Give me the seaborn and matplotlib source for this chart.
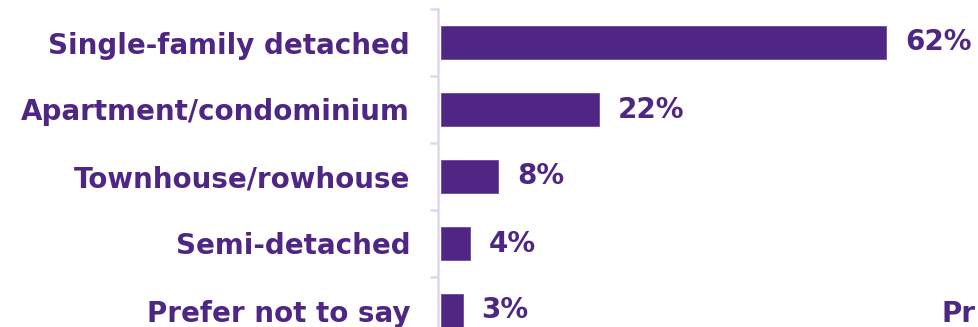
import matplotlib
matplotlib.use("Agg")
import matplotlib.pyplot as plt
import seaborn as sns
import pandas as pd
import numpy as np

# Dwelling type shares (%)
categories = ["Single-family detached", "Apartment/condominium", "Townhouse/rowhouse",
              "Semi-detached", "Prefer not to say"]
values = [62, 22, 8, 4, 3]
value_labels = ["62%", "22%", "8%", "4%", "3%"]

PURPLE = "#4F2683"
LAVENDER = "#E0D6F3"
FS = 20

sns.set_theme(style="white")
plt.rcParams["font.family"] = ["DejaVu Sans"]

df = pd.DataFrame({"category": categories, "value": values})

fig = plt.figure(figsize=(9.79, 3.27), dpi=100)
# axes spans past the bottom edge so the last row is partly cut off
ax = fig.add_axes([438 / 979, (327 - 344) / 327, (979 - 438) / 979, 335 / 327])

sns.barplot(data=df, y="category", x="value", orient="h", color=PURPLE,
            width=0.5, edgecolor="#6A4A9A", linewidth=0.6, saturation=1, ax=ax)

ax.set_xlim(-0.42, 74.9)
ax.set_ylim(4.5, -0.5)
ax.set_xlabel("")
ax.set_ylabel("")
ax.set_xticks([])

for s in ["top", "right", "bottom"]:
    ax.spines[s].set_visible(False)
ax.spines["left"].set_color(LAVENDER)
ax.spines["left"].set_linewidth(1.8)

ax.set_yticks(range(len(categories)))
ax.set_yticklabels(categories, fontsize=FS, fontweight="bold", color=PURPLE)
ax.tick_params(axis="y", which="major", left=False, length=0, pad=20)
ax.set_yticks(np.arange(-0.5, len(categories), 1.0), minor=True)
ax.tick_params(axis="y", which="minor", left=True, length=6, width=1.8, color=LAVENDER)

for i, (v, lab) in enumerate(zip(values, value_labels)):
    ax.annotate(lab, xy=(v, i), xytext=(13.7, 0), textcoords="offset points",
                ha="left", va="center", fontsize=FS, fontweight="bold", color=PURPLE)

fig.text(942 / 979, (327 - 314) / 327, "Pr", ha="left", va="center",
         fontsize=FS, fontweight="bold", color=PURPLE)

fig.savefig("out.png", dpi=100)
